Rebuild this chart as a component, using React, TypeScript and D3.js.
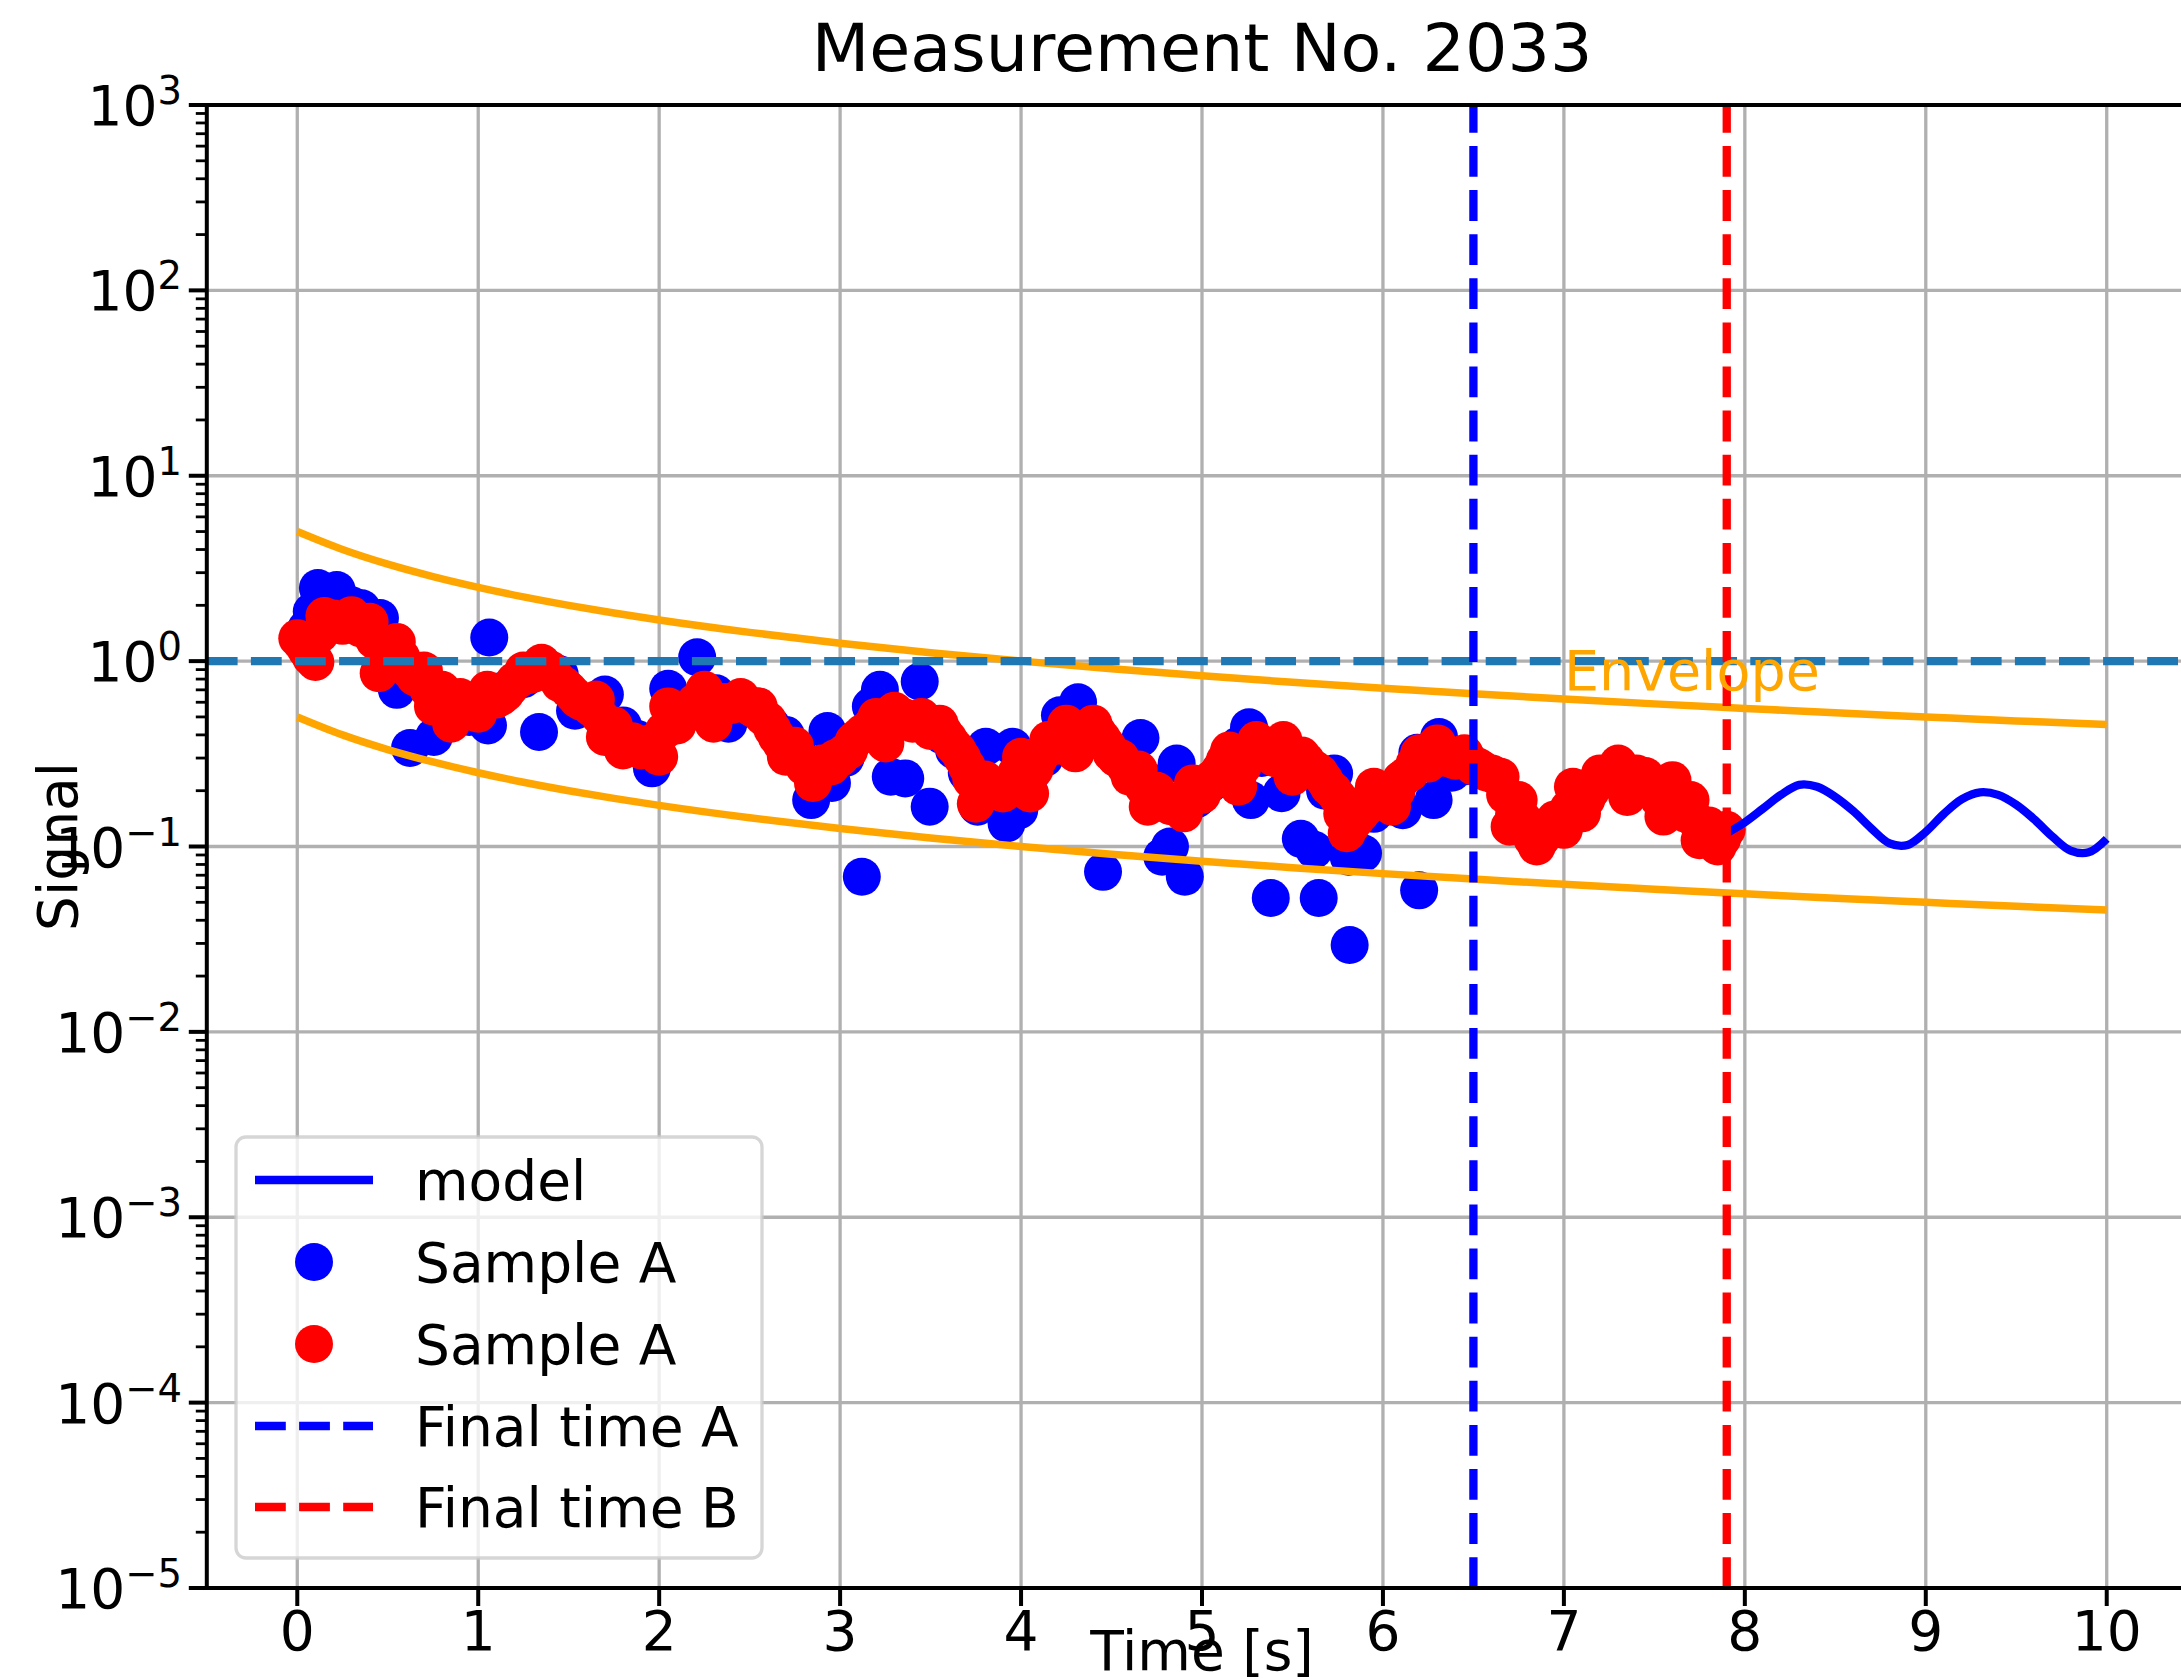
import React from 'react';
import * as d3 from 'd3';

// ---------- data ----------
const titleText = 'Measurement No. 2033';
const xLabelText = 'Time [s]';
const yLabelText = 'Signal';
const xTicks = [0, 1, 2, 3, 4, 5, 6, 7, 8, 9, 10];
const yExponents = [-5, -4, -3, -2, -1, 0, 1, 2, 3];

// Sample A (blue) : [time, value]
const blueSamples: [number, number][] = [
  [0.05, 1.5], [0.08, 1.85], [0.114, 2.48], [0.218, 2.42], [0.3, 2.0], [0.355, 1.93], [0.457, 1.71],
  [0.5, 1.3], [0.55, 0.7], [0.623, 0.34], [0.7, 0.75], [0.755, 0.39], [0.85, 0.6], [0.95, 0.5],
  [1.054, 0.45], [1.061, 1.34], [1.15, 0.7], [1.25, 0.8], [1.336, 0.415], [1.45, 0.85], [1.535, 0.54],
  [1.6, 0.6], [1.7, 0.66], [1.8, 0.45], [1.88, 0.38], [1.96, 0.264], [2.05, 0.71], [2.13, 0.55],
  [2.21, 1.05], [2.314, 0.67], [2.383, 0.46], [2.46, 0.55], [2.543, 0.57], [2.62, 0.45], [2.7, 0.4],
  [2.76, 0.33], [2.84, 0.178], [2.93, 0.42], [2.955, 0.22], [3.03, 0.3], [3.12, 0.0687], [3.17, 0.57],
  [3.22, 0.7], [3.28, 0.238], [3.36, 0.233], [3.44, 0.776], [3.495, 0.164], [3.56, 0.4], [3.63, 0.33],
  [3.7, 0.25], [3.76, 0.164], [3.805, 0.345], [3.86, 0.2], [3.92, 0.133], [3.954, 0.345], [3.99, 0.157],
  [4.06, 0.25], [4.13, 0.3], [4.215, 0.51], [4.315, 0.6], [4.38, 0.4], [4.453, 0.073], [4.53, 0.3],
  [4.6, 0.27], [4.66, 0.385], [4.73, 0.22], [4.78, 0.088], [4.823, 0.1], [4.86, 0.28], [4.905, 0.0687],
  [4.97, 0.18], [5.05, 0.22], [5.13, 0.28], [5.2, 0.35], [5.26, 0.44], [5.27, 0.178], [5.33, 0.3],
  [5.38, 0.0527], [5.44, 0.194], [5.5, 0.3], [5.546, 0.11], [5.62, 0.096], [5.645, 0.0527], [5.68, 0.2],
  [5.73, 0.248], [5.81, 0.088], [5.816, 0.0294], [5.89, 0.092], [5.95, 0.15], [6.03, 0.2], [6.11, 0.157],
  [6.19, 0.32], [6.2, 0.058], [6.28, 0.178], [6.31, 0.39], [6.38, 0.25], [6.45, 0.27],
];

// Sample A (red): regularly sampled, two interleaved series
const redStart = 0;
const redStep = 0.05;
const redValues = [
  1.33, 1.15, 0.99, 1.75, 1.7, 1.55, 1.77, 1.5, 1.63, 0.86,
  1.2, 1.27, 0.95, 0.82, 0.89, 0.57, 0.7, 0.46, 0.64, 0.55,
  0.52, 0.7, 0.62, 0.67, 0.78, 0.89, 0.85, 0.98, 0.9, 0.76,
  0.7, 0.62, 0.6, 0.62, 0.39, 0.45, 0.33, 0.37, 0.33, 0.36,
  0.305, 0.57, 0.45, 0.52, 0.6, 0.7, 0.46, 0.6, 0.58, 0.64,
  0.57, 0.57, 0.48, 0.39, 0.305, 0.35, 0.27, 0.22, 0.28, 0.27,
  0.3, 0.33, 0.39, 0.42, 0.5, 0.36, 0.54, 0.5, 0.46, 0.5,
  0.42, 0.46, 0.38, 0.33, 0.27, 0.17, 0.23, 0.2, 0.193, 0.22,
  0.305, 0.193, 0.3, 0.375, 0.35, 0.46, 0.318, 0.4, 0.46, 0.38,
  0.318, 0.3, 0.238, 0.26, 0.164, 0.2, 0.17, 0.165, 0.151, 0.219,
  0.19, 0.23, 0.26, 0.33, 0.21, 0.31, 0.375, 0.33, 0.3, 0.375,
  0.238, 0.31, 0.27, 0.25, 0.21, 0.185, 0.118, 0.14, 0.16, 0.21,
  0.19, 0.164, 0.23, 0.25, 0.318, 0.28, 0.36, 0.3, 0.29, 0.318,
  0.27, 0.26, 0.248, 0.238, 0.128, 0.178, 0.123, 0.1, 0.12, 0.14,
  0.123, 0.21, 0.151, 0.2, 0.248, 0.23, 0.28, 0.185, 0.248, 0.24,
  0.2, 0.145, 0.228, 0.16, 0.178, 0.108, 0.13, 0.1, 0.123,
];
const redMidStart = 0.025;
const redMidValues = [
  1.25, 1.05, 1.4, 1.65, 1.6, 1.62, 1.6, 1.5, 1.3, 1.1,
  1.1, 1.05, 0.88, 0.8, 0.7, 0.62, 0.58, 0.55, 0.58, 0.56,
  0.6, 0.66, 0.64, 0.72, 0.8, 0.84, 0.9, 0.92, 0.82, 0.74,
  0.66, 0.6, 0.56, 0.5, 0.43, 0.38, 0.36, 0.34, 0.35, 0.34,
  0.42, 0.5, 0.5, 0.56, 0.62, 0.58, 0.55, 0.6, 0.6, 0.6,
  0.55, 0.5, 0.43, 0.36, 0.33, 0.3, 0.26, 0.26, 0.28, 0.3,
  0.32, 0.37, 0.41, 0.45, 0.44, 0.46, 0.5, 0.48, 0.47, 0.45,
  0.44, 0.41, 0.35, 0.3, 0.23, 0.21, 0.21, 0.2, 0.21, 0.25,
  0.26, 0.26, 0.33, 0.37, 0.4, 0.38, 0.37, 0.42, 0.41, 0.35,
  0.3, 0.27, 0.25, 0.21, 0.18, 0.18, 0.165, 0.16, 0.18, 0.2,
  0.21, 0.24, 0.29, 0.28, 0.27, 0.34, 0.35, 0.32, 0.34, 0.31,
  0.28, 0.29, 0.26, 0.23, 0.2, 0.15, 0.13, 0.15, 0.18, 0.2,
  0.18, 0.2, 0.24, 0.28, 0.3, 0.32, 0.33, 0.3, 0.3, 0.29,
  0.27, 0.25, 0.24, 0.19, 0.15, 0.14, 0.11, 0.11, 0.13, 0.13,
  0.16, 0.18, 0.18, 0.22, 0.24, 0.25, 0.24, 0.22, 0.24, 0.22,
  0.18, 0.18, 0.19, 0.15, 0.14, 0.12, 0.115, 0.11,
];

// model line
const modelTimes = [7.9, 8.0, 8.1, 8.2, 8.3, 8.4, 8.5, 8.6, 8.7, 8.8, 8.9, 9.0, 9.1, 9.2, 9.3, 9.4, 9.5, 9.6, 9.7, 9.8, 9.9, 10.0];
const modelValues = [0.118, 0.135, 0.16, 0.19, 0.215, 0.21, 0.185, 0.155, 0.125, 0.104, 0.102, 0.12, 0.15, 0.18, 0.196, 0.19, 0.168, 0.14, 0.113, 0.095, 0.093, 0.11];

// envelope
const envTimes = [0, 0.25, 0.5, 0.75, 1, 1.25, 1.5, 1.75, 2, 2.5, 3, 3.5, 4, 4.5, 5, 5.5, 6, 6.5, 7, 7.5, 8, 8.5, 9, 9.5, 10];
const envUpper = [5, 4, 3.333, 2.857, 2.5, 2.222, 2, 1.818, 1.667, 1.429, 1.25, 1.111, 1.0, 0.909, 0.833, 0.769, 0.714, 0.667, 0.625, 0.588, 0.556, 0.526, 0.5, 0.476, 0.4545];
const envLower = [0.5, 0.4, 0.3333, 0.2857, 0.25, 0.2222, 0.2, 0.1818, 0.1667, 0.1429, 0.125, 0.1111, 0.1, 0.0909, 0.0833, 0.0769, 0.0714, 0.0667, 0.0625, 0.0588, 0.0556, 0.0526, 0.05, 0.0476, 0.04545];
const envLabel = 'Envelope';
const envLabelPos: [number, number] = [7.0, 0.7];

const refLevel = 1;
const finalTimeA = 6.5;
const finalTimeB = 7.9;

const legendLabels = ['model', 'Sample A', 'Sample A', 'Final time A', 'Final time B'];

// ---------- layout ----------
const W = 2181;
const H = 1679;
const FONT = 'DejaVu Sans, Verdana, sans-serif';
const L = 206.8, R = 2197.2, T = 105, B = 1588;

export default function App() {
  const x = d3.scaleLinear().domain([-0.5, 10.5]).range([L, R]);
  const y = d3.scaleLog().domain([1e-5, 1e3]).range([B, T]);

  const envLine = d3.line<number>()
    .x((_, i) => x(envTimes[i]))
    .y((d) => y(d))
    .curve(d3.curveMonotoneX);
  const modelLine = d3.line<number>()
    .x((_, i) => x(modelTimes[i]))
    .y((d) => y(d))
    .curve(d3.curveCatmullRom);

  const minor: number[] = [];
  for (let e = -5; e < 3; e++) for (let m = 2; m <= 9; m++) minor.push(m * Math.pow(10, e));

  const r = 19;
  const dash = '30.8 13.3';
  const legY = [1180, 1262, 1344, 1426, 1507];

  return (
    <svg width={W} height={H} style={{ position: 'absolute', left: 0, top: 0, background: '#fff' }} fontFamily={FONT}>
      <defs>
        <clipPath id="plotclip">
          <rect x={L} y={T} width={R - L} height={B - T} />
        </clipPath>
      </defs>
      <rect x={0} y={0} width={W} height={H} fill="#fff" />
      {/* grid */}
      <g stroke="#b0b0b0" strokeWidth={3.3}>
        {xTicks.map((t) => <line key={'gx' + t} x1={x(t)} x2={x(t)} y1={T} y2={B} />)}
        {yExponents.map((e) => <line key={'gy' + e} x1={L} x2={R} y1={y(Math.pow(10, e))} y2={y(Math.pow(10, e))} />)}
      </g>
      <g clipPath="url(#plotclip)">
        {blueSamples.map(([t, v], i) => <circle key={'b' + i} cx={x(t)} cy={y(v)} r={r} fill="#0000ff" />)}
        {redValues.map((v, i) => <circle key={'r' + i} cx={x(redStart + i * redStep)} cy={y(v)} r={r} fill="#ff0000" />)}
        {redMidValues.map((v, i) => <circle key={'rm' + i} cx={x(redMidStart + i * redStep)} cy={y(v)} r={r} fill="#ff0000" />)}
        <path d={modelLine(modelValues) || ''} fill="none" stroke="#0000ff" strokeWidth={8.3} />
        <path d={envLine(envUpper) || ''} fill="none" stroke="#ffa500" strokeWidth={7.5} />
        <path d={envLine(envLower) || ''} fill="none" stroke="#ffa500" strokeWidth={7.5} />
        <line x1={L} x2={R} y1={y(refLevel)} y2={y(refLevel)} stroke="#1f77b4" strokeWidth={8.3} strokeDasharray={dash} />
        <line x1={x(finalTimeA)} x2={x(finalTimeA)} y1={B} y2={T} stroke="#0000ff" strokeWidth={8.3} strokeDasharray={dash} />
        <line x1={x(finalTimeB)} x2={x(finalTimeB)} y1={B} y2={T} stroke="#ff0000" strokeWidth={8.3} strokeDasharray={dash} />
        <text x={x(envLabelPos[0])} y={y(envLabelPos[1])} fontSize={55.5} fill="#ffa500">{envLabel}</text>
      </g>
      {/* spines */}
      <g stroke="#000" strokeWidth={4} strokeLinecap="square">
        <line x1={L} x2={L} y1={T} y2={B} />
        <line x1={L} x2={R} y1={B} y2={B} />
        <line x1={L} x2={R} y1={T} y2={T} />
        <line x1={R} x2={R} y1={T} y2={B} />
      </g>
      {/* x ticks */}
      {xTicks.map((t) => (
        <g key={'xt' + t}>
          <line x1={x(t)} x2={x(t)} y1={B} y2={B + 18} stroke="#000" strokeWidth={4} />
          <text x={x(t)} y={1650} textAnchor="middle" fontSize={55}>{t}</text>
        </g>
      ))}
      {/* y ticks */}
      {minor.map((v, i) => <line key={'ym' + i} x1={L - 11} x2={L} y1={y(v)} y2={y(v)} stroke="#000" strokeWidth={2.8} />)}
      {yExponents.map((e) => {
        const yy = y(Math.pow(10, e));
        return (
          <g key={'yt' + e}>
            <line x1={L - 18} x2={L} y1={yy} y2={yy} stroke="#000" strokeWidth={4} />
            <text x={182} y={yy + 20} textAnchor="end" fontSize={55}>
              10<tspan dy={-21} fontSize={38.5}>{e < 0 ? '\u2212' + -e : String(e)}</tspan>
            </text>
          </g>
        );
      })}
      {/* labels */}
      <text x={(L + R) / 2} y={71} textAnchor="middle" fontSize={66.7}>{titleText}</text>
      <text x={(L + R) / 2} y={1670} textAnchor="middle" fontSize={55}>{xLabelText}</text>
      <text transform={`translate(77, ${(T + B) / 2}) rotate(-90)`} textAnchor="middle" fontSize={55}>{yLabelText}</text>
      {/* legend */}
      <g>
        <rect x={236} y={1137} width={526} height={421} rx={10} ry={10} fill="#fff" fillOpacity={0.8} stroke="#cccccc" strokeOpacity={0.8} strokeWidth={3.3} />
        <line x1={255} x2={373} y1={legY[0]} y2={legY[0]} stroke="#0000ff" strokeWidth={8.3} />
        <circle cx={314} cy={legY[1]} r={r} fill="#0000ff" />
        <circle cx={314} cy={legY[2]} r={r} fill="#ff0000" />
        <line x1={255} x2={373} y1={legY[3]} y2={legY[3]} stroke="#0000ff" strokeWidth={8.3} strokeDasharray={dash} />
        <line x1={255} x2={373} y1={legY[4]} y2={legY[4]} stroke="#ff0000" strokeWidth={8.3} strokeDasharray={dash} />
        {legendLabels.map((s, i) => (
          <text key={'lg' + i} x={415} y={legY[i] + 20} fontSize={55}>{s}</text>
        ))}
      </g>
    </svg>
  );
}
